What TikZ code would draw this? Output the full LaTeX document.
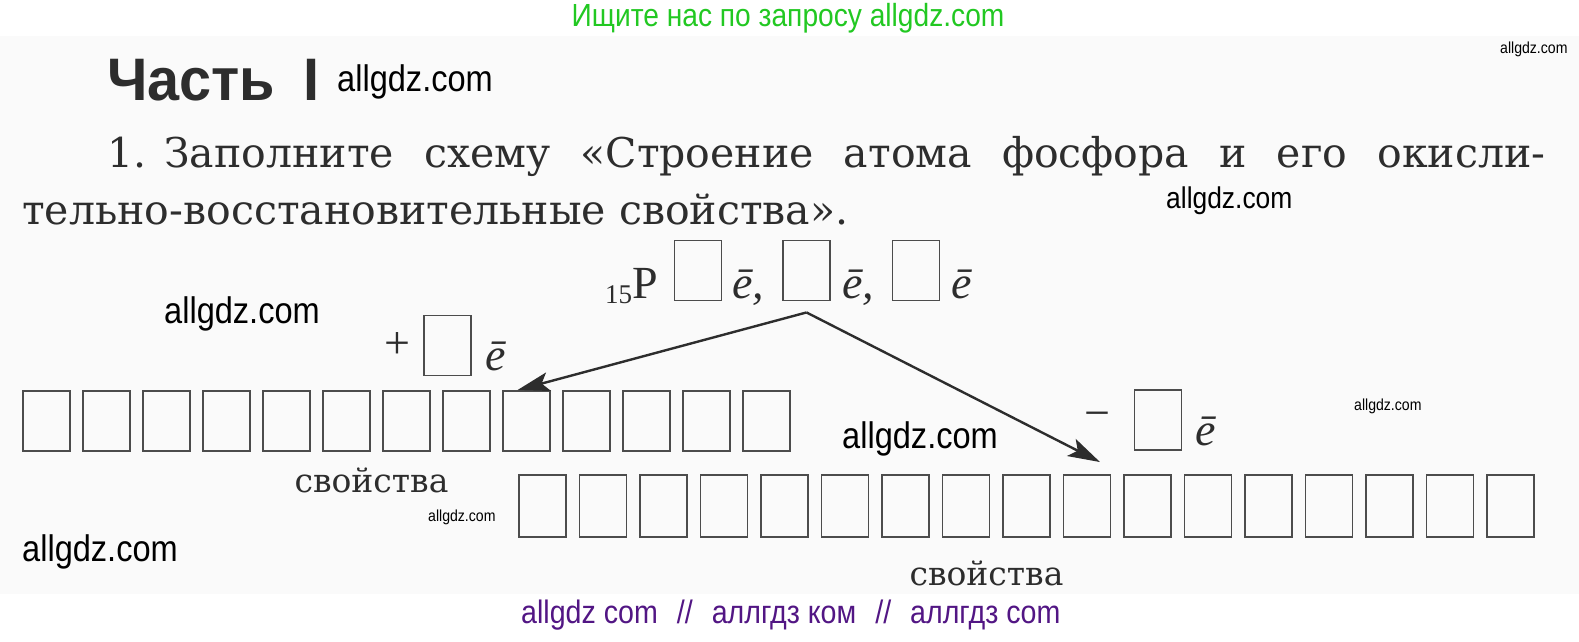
\documentclass[tikz,border=0pt]{standalone}
\usepackage{fontspec}
\setmainfont{Liberation Serif}
\newfontfamily\bookfont{DejaVu Serif}
\newfontfamily\headfont[FakeStretch=0.96]{Liberation Sans}
\newfontfamily\wmfont[FakeStretch=0.88]{Liberation Sans}
\usetikzlibrary{positioning, arrows.meta}
\definecolor{ink}{RGB}{45,45,45}
\definecolor{paper}{RGB}{250,250,250}
\definecolor{wmgreen}{RGB}{34,200,34}
\definecolor{wmpurple}{RGB}{82,22,132}
\tikzset{
    cell/.style={
        draw=black!70, line width=1.9pt,
        minimum width=47pt,
        minimum height=60pt,
        inner sep=0pt
    },
    head/.style = {inner sep=0pt, text=ink, font=\headfont\bfseries\fontsize{60}{60}\selectfont},
    task/.style = {inner sep=0pt, text=ink, font=\bookfont\fontsize{41}{44}\selectfont},
    prop/.style = {inner sep=0pt, text=ink, font=\bookfont\fontsize{33}{36}\selectfont},
    sym/.style = {inner sep=0pt, text=ink, font=\fontsize{46}{46}\selectfont},
    el/.style = {inner sep=0pt, text=ink, font=\itshape\fontsize{46}{46}\selectfont},
    wm/.style = {inner sep=0pt, anchor=base west, font=\wmfont\fontsize{37}{37}\selectfont},
    wmsmall/.style = {wm, font=\wmfont\fontsize{16}{16}\selectfont},
    line/.style = {-{Stealth[length=32pt,width=19pt,inset=7pt]}, line width=2.4pt, draw=ink}
}

\begin{document}
\begin{tikzpicture}[x=1pt, y=-1pt]
    \useasboundingbox (0,0) rectangle (1579,642);
    \fill[paper] (0,36) rectangle (1579,594);

    % Heading and task
    \node[head, anchor=base west] (part) at (107,100) {Часть\hspace{28pt}I};
    \node[task, anchor=base west] (task1) at (107,167) {\makebox[1438pt][s]{1.\hspace{18pt}Заполните схему «Строение атома фосфора и его окисли-}};
    \node[task, anchor=base west] (task2) at (22,224) {тельно-восстановительные свойства».};

    % Atom
    \node[cell] (u1) at (698,270.5) {};
    \node[cell] (u2) at (806.5,270.5) {};
    \node[cell] (u3) at (916,270.5) {};
    \node[sym, anchor=base east] (atom) at (658,298) {{\fontsize{27}{27}\selectfont\raisebox{-5pt}{15}}P};
    \node[el, anchor=base west] (e1) at (732,298) {ē,};
    \node[el, anchor=base west] (e2) at (842,298) {ē,};
    \node[el, anchor=base west] (e3) at (951,298) {ē};

    % Gain and loss of electrons
    \node[cell] (gain) at (447.5,345.5) {};
    \node[sym, left = 12pt of gain] (plus) {+};
    \node[el, anchor=base west] (eg) at (485,370) {ē};
    \node[cell] (loss) at (1158,420) {};
    \node[sym, left = 23pt of loss] (minus) {−};
    \node[el, anchor=base west] (ell) at (1195,445) {ē};

    % Rows of cells
    \foreach \i in {1,...,13}
        \node[cell] (t\i) at ({46.5+(\i-1)*60},421) {};
    \foreach \i in {1,...,17}
        \node[cell, minimum height=62pt] (b\i) at ({542.5+(\i-1)*60.5},506) {};

    \node[prop, anchor=base] (propL) at (371.5,492) {свойства};
    \node[prop, anchor=base] (propR) at (986.5,585) {свойства};

    % Arrows
    \coordinate (fork) at ([yshift=-11pt]u2.south);
    \draw[line] (fork) -- ([xshift=-9pt]t9.north);
    \draw[line] (fork) -- ([xshift=13pt,yshift=12pt]b10.north);

    % Watermarks
    \node[wm, anchor=base, text=wmgreen, font=\wmfont\fontsize{32}{32}\selectfont] (find) at (788,27) {Ищите нас по запросу allgdz.com};
    \node[wm] (wm1) at (337,92) {allgdz.com};
    \node[wmsmall] (wm2) at (1500,53) {allgdz.com};
    \node[wm, font=\wmfont\fontsize{30}{30}\selectfont] (wm3) at (1166,208) {allgdz.com};
    \node[wm] (wm4) at (164,323) {allgdz.com};
    \node[wm] (wm5) at (842,448) {allgdz.com};
    \node[wmsmall] (wm6) at (1354,410) {allgdz.com};
    \node[wmsmall] (wm7) at (428,521) {allgdz.com};
    \node[wm] (wm8) at (22,561) {allgdz.com};
    \node[wm, text=wmpurple, font=\wmfont\fontsize{32.5}{33}\selectfont] (names) at (521,623) {allgdz com\hspace{19pt}//\hspace{19pt}аллгдз ком\hspace{19pt}//\hspace{19pt}аллгдз com};
\end{tikzpicture}
\end{document}
